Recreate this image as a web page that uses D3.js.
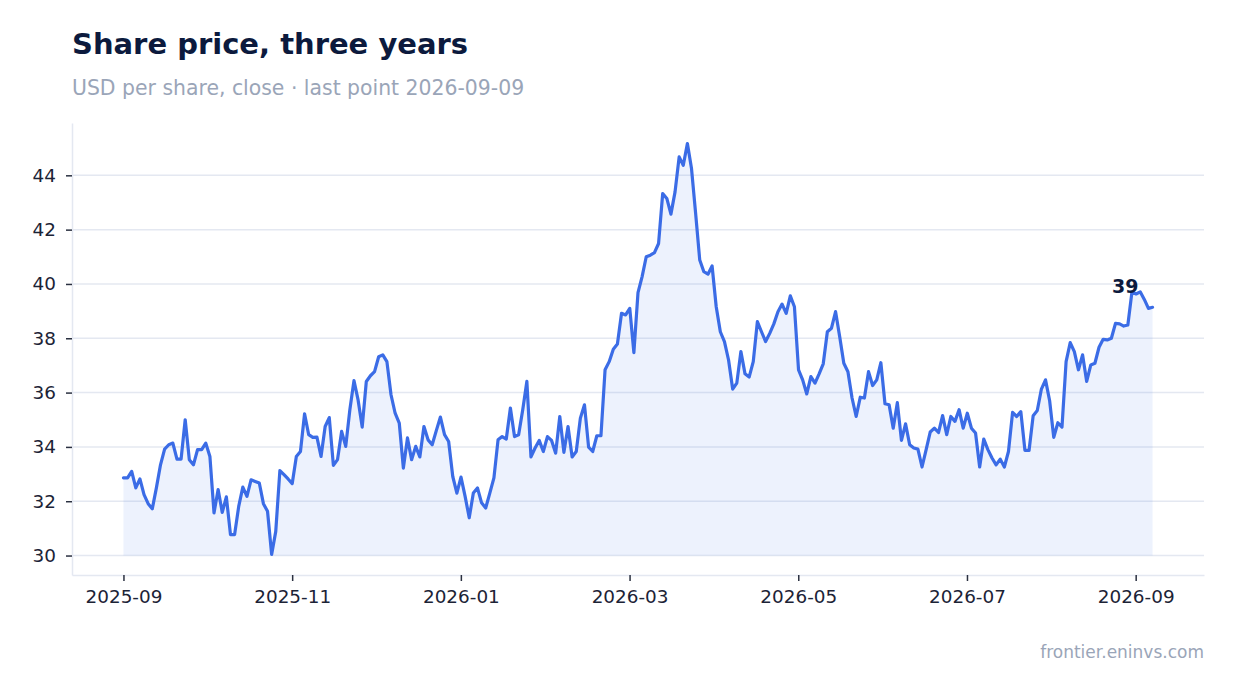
<!DOCTYPE html>
<html>
<head>
<meta charset="utf-8">
<script src="https://cdn.jsdelivr.net/npm/d3@7"></script>
<style>
  html, body { margin: 0; padding: 0; background: #fff; }
  svg { display: block; font-family: "DejaVu Sans", sans-serif; }
</style>
</head>
<body>
<svg id="chart" width="1234" height="693"></svg>
<script>
// closes, evenly spaced samples from first to last plotted day
const seriesStart = new Date(2025, 8, 1);
const seriesEnd = new Date(2026, 8, 7);
const closes = [
  32.86, 32.86, 33.10, 32.49, 32.82, 32.24, 31.91, 31.72, 32.49, 33.34,
  33.92, 34.08, 34.14, 33.55, 33.55, 35.00, 33.53, 33.34, 33.90, 33.90,
  34.14, 33.65, 31.57, 32.43, 31.59, 32.16, 30.77, 30.77, 31.81, 32.52,
  32.18, 32.79, 32.73, 32.67, 31.91, 31.63, 30.04, 30.89, 33.13, 32.98,
  32.82, 32.65, 33.65, 33.83, 35.22, 34.45, 34.35, 34.36, 33.65, 34.75,
  35.08, 33.32, 33.53, 34.57, 34.02, 35.37, 36.44, 35.73, 34.73, 36.41,
  36.62, 36.77, 37.32, 37.39, 37.14, 35.92, 35.24, 34.88, 33.22, 34.33,
  33.53, 34.02, 33.63, 34.75, 34.26, 34.08, 34.60, 35.10, 34.45, 34.20,
  32.91, 32.30, 32.89, 32.18, 31.39, 32.30, 32.49, 31.94, 31.75, 32.30,
  32.86, 34.26, 34.38, 34.29, 35.43, 34.38, 34.45, 35.37, 36.41, 33.63,
  33.96, 34.24, 33.83, 34.38, 34.24, 33.77, 35.12, 33.80, 34.75, 33.63,
  33.83, 35.06, 35.55, 33.99, 33.83, 34.41, 34.41, 36.84, 37.14, 37.60,
  37.79, 38.92, 38.86, 39.10, 37.47, 39.68, 40.27, 41.00, 41.06, 41.15,
  41.49, 43.33, 43.15, 42.57, 43.39, 44.68, 44.37, 45.17, 44.25, 42.60,
  40.88, 40.45, 40.36, 40.66, 39.16, 38.24, 37.88, 37.20, 36.13, 36.35,
  37.51, 36.69, 36.57, 37.14, 38.61, 38.24, 37.88, 38.18, 38.53, 38.98,
  39.26, 38.92, 39.56, 39.16, 36.84, 36.47, 35.95, 36.59, 36.35, 36.69,
  37.06, 38.24, 38.37, 38.98, 38.06, 37.08, 36.77, 35.80, 35.12, 35.83,
  35.80, 36.77, 36.26, 36.47, 37.10, 35.59, 35.55, 34.69, 35.63, 34.24,
  34.85, 34.08, 33.96, 33.92, 33.26, 33.90, 34.55, 34.69, 34.53, 35.15,
  34.45, 35.12, 34.94, 35.37, 34.69, 35.24, 34.69, 34.51, 33.26, 34.29,
  33.90, 33.59, 33.34, 33.55, 33.26, 33.83, 35.27, 35.12, 35.30, 33.87,
  33.87, 35.15, 35.34, 36.13, 36.47, 35.70, 34.35, 34.89, 34.73, 37.14,
  37.84, 37.51, 36.84, 37.39, 36.41, 37.02, 37.08, 37.67, 37.96, 37.94,
  38.00, 38.55, 38.53, 38.45, 38.49, 39.71, 39.63, 39.71, 39.43, 39.10,
  39.14
];
const tickEveryMonths = 2;
const titleText = 'Share price, three years';
const subtitleText = 'USD per share, close · last point 2026-09-09';
const sourceText = 'frontier.eninvs.com';

const W = 1234, H = 693;
const m = { top: 123, right: 30, bottom: 118, left: 72 };
const INK = '#0c1a3d', MUTED = '#9aa5b8', GRID = '#e4e8f1', LINE = '#3b6ce6';

// x runs in month units (each calendar month gets the same width)
function toMonths(d){
  const whole = (d.getFullYear() - seriesStart.getFullYear()) * 12 + d.getMonth() - seriesStart.getMonth();
  const dim = new Date(d.getFullYear(), d.getMonth() + 1, 0).getDate();
  return whole + (d.getDate() - 1) / dim;
}
const spanMonths = toMonths(seriesEnd);
const data = closes.map((v, i) => ({ t: i * spanMonths / (closes.length - 1), v }));

const svg = d3.select('#chart');

const xExt = d3.extent(data, d => d.t);
const xPad = (xExt[1] - xExt[0]) * 0.05;
const x = d3.scaleLinear()
  .domain([xExt[0] - xPad, xExt[1] + xPad])
  .range([m.left, W - m.right]);

const yExt = d3.extent(data, d => d.v);
const yPad = (yExt[1] - yExt[0]) * 0.05;
const y = d3.scaleLinear()
  .domain([yExt[0] - yPad, yExt[1] + yPad])
  .range([H - m.bottom, m.top]);

const yTicks = y.ticks(8);
const xTicks = d3.range(0, Math.floor(xExt[1]) + 1, tickEveryMonths);
const fmtMonth = d3.timeFormat('%Y-%m');

// gridlines
svg.append('g').selectAll('line').data(yTicks).join('line')
  .attr('x1', m.left).attr('x2', W - m.right)
  .attr('y1', d => y(d)).attr('y2', d => y(d))
  .attr('stroke', GRID).attr('stroke-width', 1.5);

// axes
const xAxis = svg.append('g')
  .attr('transform', 'translate(0,' + (H - m.bottom) + ')')
  .call(d3.axisBottom(x).tickValues(xTicks).tickFormat(k => fmtMonth(d3.timeMonth.offset(seriesStart, k)))
    .tickSize(6).tickSizeOuter(0).tickPadding(9));
const yAxis = svg.append('g')
  .attr('transform', 'translate(' + m.left + ',0)')
  .call(d3.axisLeft(y).tickValues(yTicks).tickSize(6).tickSizeOuter(0).tickPadding(10));

[xAxis, yAxis].forEach(g => {
  g.select('.domain').attr('stroke', GRID).attr('stroke-width', 1.5);
  g.selectAll('.tick line').attr('stroke', '#2a3040').attr('stroke-width', 1.5);
  g.selectAll('.tick text').attr('fill', '#1c2336')
    .style('font-size', '18.4px').style('font-family', '"DejaVu Sans", sans-serif');
});

// area + line
const base = Math.floor(yExt[0]);
svg.append('path').datum(data)
  .attr('fill', LINE).attr('fill-opacity', 0.09)
  .attr('d', d3.area().x(d => x(d.t)).y0(y(base)).y1(d => y(d.v)));

svg.append('path').datum(data)
  .attr('fill', 'none').attr('stroke', LINE).attr('stroke-width', 3.2)
  .attr('stroke-linejoin', 'round').attr('stroke-linecap', 'round')
  .attr('d', d3.line().x(d => x(d.t)).y(d => y(d.v)));

// last value tag
const last = data[data.length - 1];
svg.append('text')
  .attr('x', x(last.t) - 14).attr('y', y(last.v) - 14)
  .attr('text-anchor', 'end').attr('fill', INK)
  .style('font-size', '19px').style('font-weight', 'bold')
  .text(d3.format('.0f')(last.v));

// titles
svg.append('text').attr('x', m.left).attr('y', 54)
  .attr('fill', INK).style('font-size', '29px').style('font-weight', 'bold')
  .text(titleText);
svg.append('text').attr('x', m.left).attr('y', 95)
  .attr('fill', MUTED).style('font-size', '20.4px')
  .text(subtitleText);
svg.append('text').attr('x', W - m.right).attr('y', 658)
  .attr('text-anchor', 'end').attr('fill', MUTED).style('font-size', '17px')
  .text(sourceText);
</script>
</body>
</html>
